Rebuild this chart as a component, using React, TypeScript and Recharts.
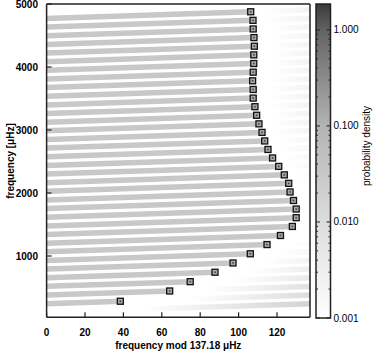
import React from 'react';
import { ComposedChart, Line, Scatter, XAxis, YAxis, ReferenceArea, Label } from 'recharts';

const W = 374;
const H = 354;
const FONT = '"Liberation Sans", Arial, Helvetica, sans-serif';

const DNU = 137.18;
const X_TICKS = [0, 20, 40, 60, 80, 100, 120];
const Y_TICKS = [1000, 2000, 3000, 4000, 5000];
const Y_DOMAIN: [number, number] = [27, 5000];

// mode positions: x = frequency mod 137.18, y = frequency
const MODE_X = [38.4, 64.1, 74.8, 87.7, 97.1, 106.1, 114.8, 121.8, 128.0, 130.0, 130.0, 128.6, 126.8, 126.1, 123.8, 120.9, 117.7, 115.3, 113.6, 112.2, 110.6, 109.4, 108.5, 107.6, 107.6, 107.3, 107.6, 107.9, 107.9, 108.2, 108.0, 107.6, 107.5, 106.3];
const MODE_FREQ = [281.9, 444.8, 592.7, 742.7, 889.3, 1035.5, 1181.4, 1325.6, 1469.0, 1608.1, 1745.3, 1881.1, 2016.5, 2153.0, 2287.8, 2422.1, 2556.1, 2690.9, 2826.4, 2962.2, 3097.7, 3233.7, 3370.0, 3506.3, 3643.5, 3780.4, 3917.8, 4055.3, 4192.5, 4330.0, 4467.0, 4603.8, 4740.8, 4876.8];
// where the faint density rises again on each row (row 0 lies below the first mode)
const TAIL_START = [49, 75, 83, 97, 106, 114, 122, 128, 134, 137.2, 137.2, 136, 134, 134, 132, 129, 126, 124, 122, 121, 119, 118, 117, 116.5, 116.5, 116, 116.5, 117, 117, 117, 117, 116.5, 116.5, 115, 115];

const CB_MAJOR = [0.001, 0.01, 0.1, 1];
const CB_MINOR = [0.002, 0.003, 0.004, 0.005, 0.006, 0.007, 0.008, 0.009, 0.02, 0.03, 0.04, 0.05, 0.06, 0.07, 0.08, 0.09, 0.2, 0.3, 0.4, 0.5, 0.6, 0.7, 0.8, 0.9];
const CB_DOMAIN: [number, number] = [0.001, 1.86];

const BAND_COLOR = '#c8c8c8';
const FRAME = '#222';
const CB_LEFT = 316;
const CB_RIGHT = 330.5;

const rowBase = MODE_FREQ.map((f, i) => f - MODE_X[i]);
const bases = [rowBase[0] - DNU, ...rowBase];
const bands = MODE_X.map((x, i) => [
  { x: 0, y: rowBase[i] },
  { x, y: MODE_FREQ[i] },
]);
const tails = TAIL_START.map((s, j) => ({
  id: j,
  alpha: Math.min(0.8, (DNU - s) / 100),
  data: [
    { x: s, y: bases[j] + s },
    { x: DNU, y: bases[j] + DNU },
  ],
})).filter((t) => t.data[0].x < DNU);
const markers = MODE_X.map((x, i) => ({ x, y: MODE_FREQ[i] }));

const MarkerShape = (p: any) => {
  const { cx, cy } = p;
  if (cx == null || cy == null) return null;
  return (
    <g>
      <rect x={cx - 3} y={cy - 3} width={6} height={6} fill="#a8a8a8" stroke="#111" strokeWidth={1.3} />
      <rect x={cx - 0.8} y={cy - 0.8} width={1.6} height={1.6} fill="#444" />
    </g>
  );
};

const CbTick = (p: any) => {
  const { x, y, payload } = p;
  const v = payload.value;
  const major = CB_MAJOR.some((m) => Math.abs(m - v) < 1e-9);
  const len = major ? 4 : 2;
  return (
    <g>
      <line x1={CB_LEFT} x2={CB_LEFT + len} y1={y} y2={y} stroke={FRAME} strokeWidth={1} />
      <line x1={CB_RIGHT - len} x2={CB_RIGHT} y1={y} y2={y} stroke={FRAME} strokeWidth={1} />
      {major && (
        <text x={x} y={y} dy="0.35em" textAnchor="start" fontSize={10} fontFamily={FONT} fill="#000">
          {v.toFixed(3)}
        </text>
      )}
    </g>
  );
};

const tickStyle = { fontSize: 10, fontWeight: 'bold' as const, fill: '#000', fontFamily: FONT };

export default function App() {
  return (
    <div style={{ position: 'absolute', left: 0, top: 0, width: W, height: H, background: '#fff' }}>
      <div style={{ position: 'absolute', left: 0, top: 0 }}>
        <ComposedChart width={W} height={H} margin={{ top: 3, right: 63, bottom: 0, left: 0 }}>
          <defs>
            {tails.map((t) => (
              <linearGradient key={t.id} id={`tail${t.id}`} x1="0" y1="0" x2="1" y2="0">
                <stop offset="0" stopColor={BAND_COLOR} stopOpacity={0} />
                <stop offset="1" stopColor={BAND_COLOR} stopOpacity={t.alpha} />
              </linearGradient>
            ))}
          </defs>
          <XAxis
            type="number"
            dataKey="x"
            domain={[0, DNU]}
            allowDataOverflow
            ticks={X_TICKS}
            interval={0}
            height={36.7}
            tickSize={-5}
            tickMargin={16.2}
            axisLine={{ stroke: FRAME, strokeWidth: 1.5 }}
            tickLine={{ stroke: FRAME, strokeWidth: 1.2 }}
            tick={tickStyle}
          >
            <Label
              value="frequency mod 137.18 μHz"
              position="insideBottom"
              offset={5.5}
              style={{ fontSize: 10, fontWeight: 'bold', fill: '#000', fontFamily: FONT }}
            />
          </XAxis>
          <XAxis
            xAxisId="top"
            orientation="top"
            type="number"
            domain={[0, DNU]}
            allowDataOverflow
            ticks={X_TICKS}
            interval={0}
            height={1}
            tickSize={-5}
            tick={false}
            axisLine={{ stroke: FRAME, strokeWidth: 1.5 }}
            tickLine={{ stroke: FRAME, strokeWidth: 1.2 }}
          />
          <YAxis
            type="number"
            domain={Y_DOMAIN}
            allowDataOverflow
            ticks={Y_TICKS}
            interval={0}
            width={46.6}
            tickSize={-5}
            tickMargin={13.6}
            axisLine={{ stroke: FRAME, strokeWidth: 1.5 }}
            tickLine={{ stroke: FRAME, strokeWidth: 1.2 }}
            tick={tickStyle}
          >
            <Label
              content={() => (
                <text
                  x={14}
                  y={161}
                  transform="rotate(-90 14 161)"
                  textAnchor="middle"
                  fontSize={10}
                  fontWeight="bold"
                  fontFamily={FONT}
                  fill="#000"
                >
                  frequency [μHz]
                </text>
              )}
            />
          </YAxis>
          <YAxis
            yAxisId="right"
            orientation="right"
            type="number"
            domain={Y_DOMAIN}
            allowDataOverflow
            ticks={Y_TICKS}
            interval={0}
            width={1}
            tickSize={-5}
            tick={false}
            axisLine={{ stroke: FRAME, strokeWidth: 1.5 }}
            tickLine={{ stroke: FRAME, strokeWidth: 1.2 }}
          />
          {bands.map((d, i) => (
            <Line
              key={`b${i}`}
              data={d}
              dataKey="y"
              type="linear"
              stroke={BAND_COLOR}
              strokeWidth={5.5}
              strokeLinecap="butt"
              dot={false}
              activeDot={false}
              isAnimationActive={false}
              legendType="none"
            />
          ))}
          {tails.map((t) => (
            <Line
              key={`t${t.id}`}
              data={t.data}
              dataKey="y"
              type="linear"
              stroke={`url(#tail${t.id})`}
              strokeWidth={5.5}
              strokeLinecap="butt"
              dot={false}
              activeDot={false}
              isAnimationActive={false}
              legendType="none"
            />
          ))}
          <Scatter data={markers} dataKey="y" shape={<MarkerShape />} isAnimationActive={false} legendType="none" />
        </ComposedChart>
      </div>
      <div style={{ position: 'absolute', left: 0, top: 0 }}>
        <ComposedChart width={W} height={H} margin={{ top: 4, right: 0, bottom: 36, left: CB_LEFT }} data={[{ x: 0 }, { x: 1 }]}>
          <defs>
            <linearGradient id="cbgrad" x1="0" y1="1" x2="0" y2="0">
              <stop offset="0" stopColor="#ffffff" />
              <stop offset="0.31" stopColor="#dcdcdc" />
              <stop offset="0.61" stopColor="#b4b4b4" />
              <stop offset="0.92" stopColor="#626262" />
              <stop offset="1" stopColor="#3a3a3a" />
            </linearGradient>
          </defs>
          <XAxis type="number" dataKey="x" domain={[0, 1]} hide />
          <YAxis
            orientation="right"
            type="number"
            scale="log"
            domain={CB_DOMAIN}
            allowDataOverflow
            ticks={[...CB_MAJOR, ...CB_MINOR]}
            interval={0}
            width={374 - CB_RIGHT}
            tickSize={0}
            tickMargin={3}
            axisLine={false}
            tickLine={false}
            tick={<CbTick />}
          >
            <Label
              content={() => (
                <text
                  x={370}
                  y={146}
                  transform="rotate(-90 370 146)"
                  textAnchor="middle"
                  fontSize={10}
                  fontFamily={FONT}
                  fill="#000"
                >
                  probability density
                </text>
              )}
            />
          </YAxis>
          <ReferenceArea
            x1={0}
            x2={1}
            y1={CB_DOMAIN[0]}
            y2={CB_DOMAIN[1]}
            fill="url(#cbgrad)"
            fillOpacity={1}
            stroke={FRAME}
            strokeWidth={1.5}
            ifOverflow="extendDomain"
          />
        </ComposedChart>
      </div>
    </div>
  );
}
